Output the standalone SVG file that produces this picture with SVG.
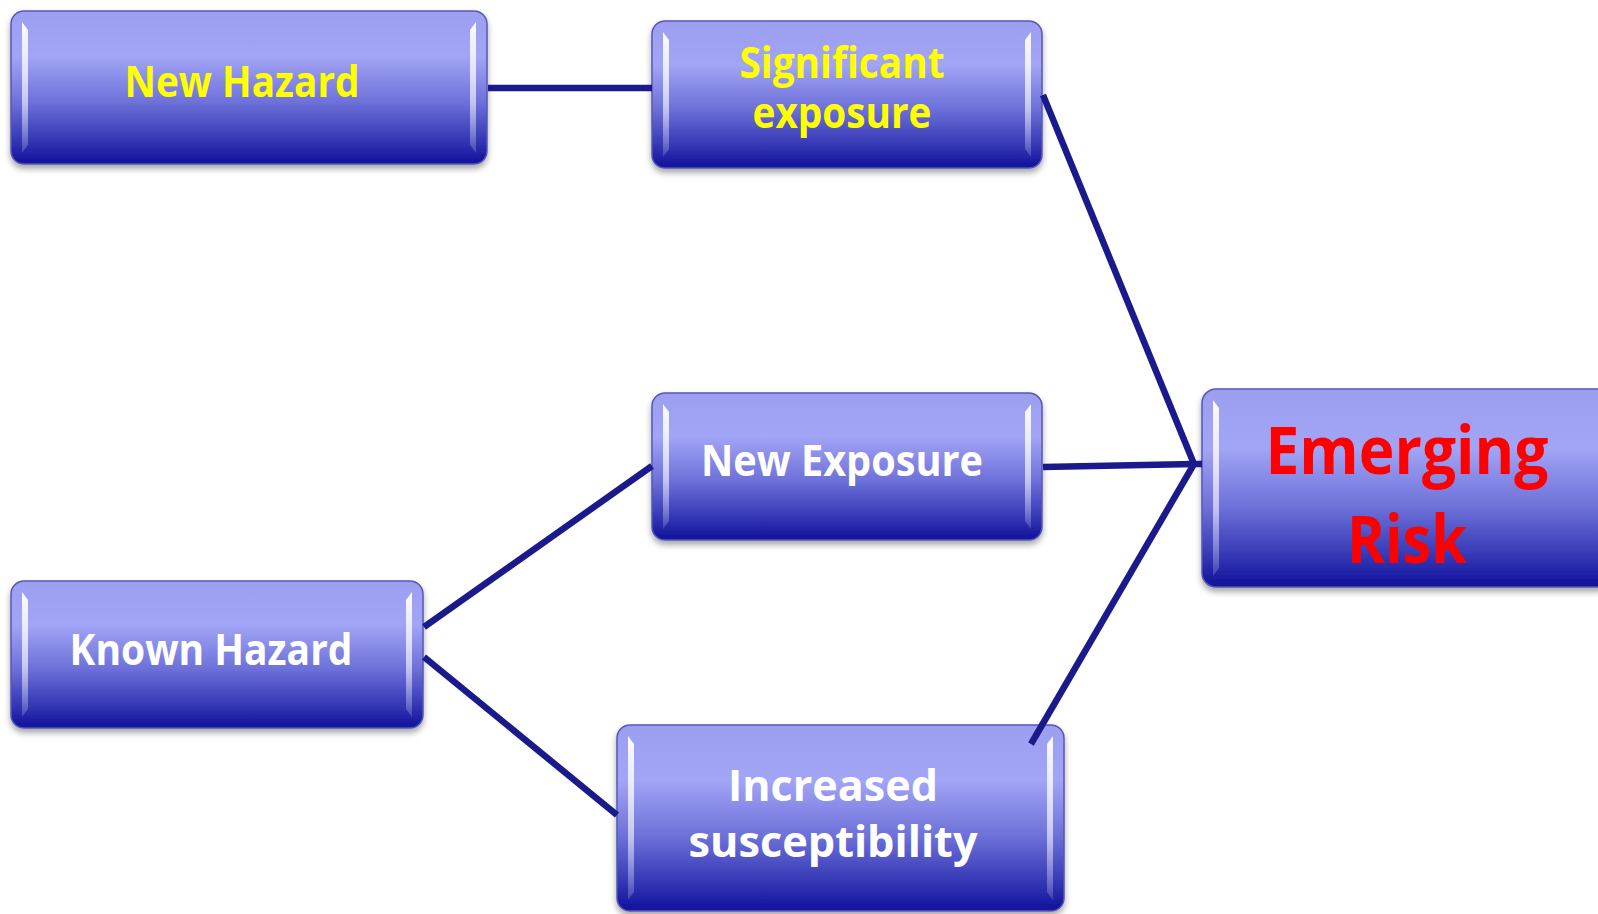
<svg xmlns="http://www.w3.org/2000/svg" width="1598" height="914" viewBox="0 0 1598 914">
<defs>
<linearGradient id="fill" x1="0" y1="0" x2="0" y2="1">
<stop offset="0" stop-color="#9c9ef0"/>
<stop offset="0.3" stop-color="#a2a4f5"/>
<stop offset="0.6" stop-color="#6c70d8"/>
<stop offset="0.85" stop-color="#3336b4"/>
<stop offset="1" stop-color="#10109a"/>
</linearGradient>
<linearGradient id="hl" x1="0" y1="0" x2="0" y2="1">
<stop offset="0" stop-color="#ffffff" stop-opacity="0.95"/>
<stop offset="0.6" stop-color="#ffffff" stop-opacity="0.6"/>
<stop offset="1" stop-color="#ffffff" stop-opacity="0.15"/>
</linearGradient>
<filter id="sh" x="-5%" y="-5%" width="110%" height="120%">
<feDropShadow dx="0" dy="4" stdDeviation="3" flood-color="#000" flood-opacity="0.35"/>
</filter>
</defs>
<style>
.box{fill:url(#fill);stroke:#5557b8;stroke-width:1.5;filter:url(#sh)}
.hl{fill:url(#hl)}
.t{font-family:"Open Sans","Liberation Sans",sans-serif;font-weight:bold;text-anchor:middle;font-size:43px}
.y{fill:#ffff00}
.w{fill:#ffffff}
.r{fill:#ff0000;font-size:67px}
.c{stroke:#1a1a8c;stroke-width:6.5;fill:none;stroke-linecap:butt;stroke-linejoin:miter}
</style>
<g id="new-hazard">
<rect class="box" x="11" y="11" width="476" height="153" rx="13"/>
<polygon class="hl" points="22,22 28,30 28,145 22,153"/>
<polygon class="hl" points="476,22 470,30 470,145 476,153"/>
<text class="t y" x="242" y="97" textLength="235" lengthAdjust="spacingAndGlyphs">New Hazard</text>
</g>
<g id="significant-exposure">
<rect class="box" x="652" y="21" width="390" height="147" rx="13"/>
<polygon class="hl" points="663,32 669,40 669,149 663,157"/>
<polygon class="hl" points="1031,32 1025,40 1025,149 1031,157"/>
<text class="t y" x="842" y="78" textLength="205" lengthAdjust="spacingAndGlyphs">Significant</text>
<text class="t y" x="842" y="128" textLength="179" lengthAdjust="spacingAndGlyphs">exposure</text>
</g>
<g id="new-exposure">
<rect class="box" x="652" y="393" width="390" height="147" rx="13"/>
<polygon class="hl" points="663,404 669,412 669,521 663,529"/>
<polygon class="hl" points="1031,404 1025,412 1025,521 1031,529"/>
<text class="t w" x="842" y="476" textLength="282" lengthAdjust="spacingAndGlyphs">New Exposure</text>
</g>
<g id="known-hazard">
<rect class="box" x="11" y="581" width="412" height="147" rx="13"/>
<polygon class="hl" points="22,592 28,600 28,709 22,717"/>
<polygon class="hl" points="412,592 406,600 406,709 412,717"/>
<text class="t w" x="211" y="665" textLength="283" lengthAdjust="spacingAndGlyphs">Known Hazard</text>
</g>
<g id="increased-susceptibility">
<rect class="box" x="617" y="725" width="447" height="186" rx="13"/>
<polygon class="hl" points="628,736 634,744 634,892 628,900"/>
<polygon class="hl" points="1053,736 1047,744 1047,892 1053,900"/>
<text class="t w" x="833" y="801" textLength="210" lengthAdjust="spacingAndGlyphs">Increased</text>
<text class="t w" x="833" y="857" textLength="289" lengthAdjust="spacingAndGlyphs">susceptibility</text>
</g>
<g id="emerging-risk">
<rect class="box" x="1202" y="389" width="410" height="198" rx="14"/>
<polygon class="hl" points="1213,400 1219,408 1219,568 1213,576"/>
<text class="t r" x="1407" y="474" textLength="283" lengthAdjust="spacingAndGlyphs">Emerging</text>
<text class="t r" x="1407" y="563" textLength="120" lengthAdjust="spacingAndGlyphs">Risk</text>
</g>
<g id="connectors">
<line class="c" x1="488" y1="88" x2="652" y2="88"/>
<polyline class="c" points="1043,95 1194,464"/>
<polyline class="c" points="1043,467 1194,464 1202,464"/>
<polyline class="c" points="1031,744 1194,464"/>
<line class="c" x1="424" y1="627" x2="652" y2="466"/>
<line class="c" x1="424" y1="657" x2="617" y2="815"/>
</g>
</svg>
